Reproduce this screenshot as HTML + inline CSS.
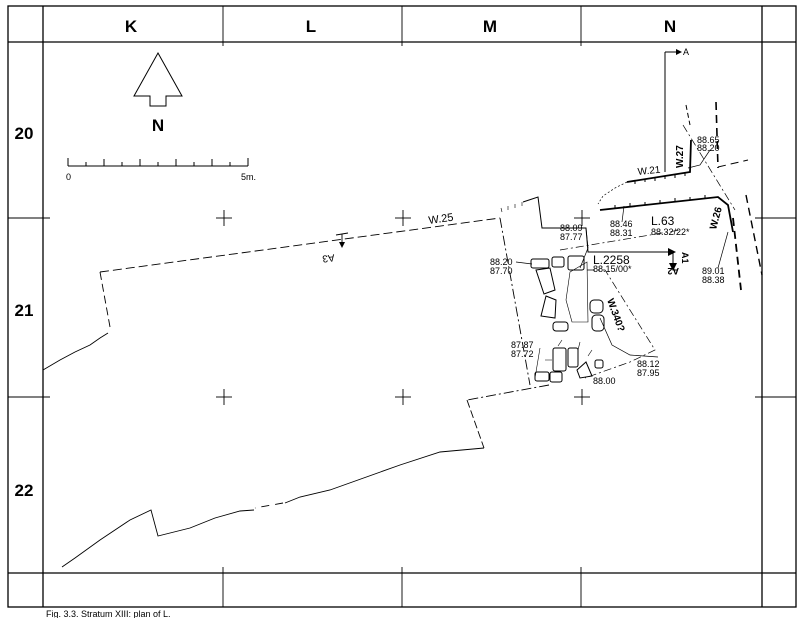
<!DOCTYPE html>
<html><head><meta charset="utf-8"><style>
html,body{margin:0;padding:0;background:#fff;}
svg{display:block;}
text{font-family:"Liberation Sans",Arial,sans-serif;fill:#000;}
.b{font-weight:bold;}
</style></head><body>
<svg width="805" height="618" viewBox="0 0 805 618" xmlns="http://www.w3.org/2000/svg">
<rect width="805" height="618" fill="#fff"/>
<g stroke="#000" fill="none" stroke-width="1.3">
<rect x="8" y="6" width="788" height="601"/>
<line x1="8" y1="42" x2="796" y2="42"/>
<line x1="8" y1="573" x2="796" y2="573"/>
<line x1="43" y1="6" x2="43" y2="607"/>
<line x1="762" y1="6" x2="762" y2="607"/>
</g>
<g stroke="#000" stroke-width="0.9">
<line x1="223" y1="6" x2="223" y2="46"/><line x1="402" y1="6" x2="402" y2="46"/><line x1="581" y1="6" x2="581" y2="46"/>
<line x1="223" y1="567" x2="223" y2="607"/><line x1="402" y1="567" x2="402" y2="607"/><line x1="581" y1="567" x2="581" y2="607"/>
<line x1="8" y1="218" x2="50" y2="218"/><line x1="8" y1="397" x2="50" y2="397"/>
<line x1="755" y1="218" x2="796" y2="218"/><line x1="755" y1="397" x2="796" y2="397"/>
<line x1="216" y1="218" x2="232" y2="218"/><line x1="224" y1="210" x2="224" y2="226"/>
<line x1="395" y1="218" x2="411" y2="218"/><line x1="403" y1="210" x2="403" y2="226"/>
<line x1="574" y1="218" x2="590" y2="218"/><line x1="582" y1="210" x2="582" y2="226"/>
<line x1="216" y1="397" x2="232" y2="397"/><line x1="224" y1="389" x2="224" y2="405"/>
<line x1="395" y1="397" x2="411" y2="397"/><line x1="403" y1="389" x2="403" y2="405"/>
<line x1="574" y1="397" x2="590" y2="397"/><line x1="582" y1="389" x2="582" y2="405"/>
</g>
<g class="b" font-size="17" text-anchor="middle">
<text x="131" y="32" class="b">K</text><text x="311" y="32" class="b">L</text>
<text x="490" y="32" class="b">M</text><text x="670" y="32" class="b">N</text>
<text x="24" y="139" class="b">20</text><text x="24" y="316" class="b">21</text><text x="24" y="496" class="b">22</text>
<text x="158" y="131" class="b">N</text>
</g>
<polygon points="158,53 182,96 166,96 166,106 150,106 150,96 134,96" fill="none" stroke="#000" stroke-width="1"/>
<g stroke="#000" stroke-width="1">
<line x1="68" y1="166" x2="248" y2="166"/>
<line x1="68" y1="158" x2="68" y2="166"/><line x1="86" y1="162" x2="86" y2="166"/><line x1="104" y1="159" x2="104" y2="166"/><line x1="122" y1="162" x2="122" y2="166"/><line x1="140" y1="159" x2="140" y2="166"/><line x1="158" y1="162" x2="158" y2="166"/><line x1="176" y1="159" x2="176" y2="166"/><line x1="194" y1="162" x2="194" y2="166"/><line x1="212" y1="159" x2="212" y2="166"/><line x1="230" y1="162" x2="230" y2="166"/><line x1="248" y1="158" x2="248" y2="166"/>
</g>
<text x="66" y="180" font-size="9">0</text><text x="241" y="180" font-size="9">5m.</text>
<g stroke="#000" stroke-width="0.9" fill="none">
<path d="M100,272 L500,218" stroke-dasharray="9,4"/>
<path d="M100,272 L110,327" stroke-dasharray="8,4"/>
<path d="M108,333 L100,338 L90,345 L75,352 L60,360 L43,370"/>
<path d="M500,218 L530,385" stroke-dasharray="10,3,2,3"/>
<path d="M549,385 L467,400" stroke-dasharray="10,3,2,3"/>
<path d="M467,400 L484,448" stroke-dasharray="8,3"/>
<path d="M484,448 L440,452 L400,465 L330,490 L300,497 L285,503"/>
<path d="M283,503 L255,508" stroke-dasharray="8,6"/>
<path d="M254,510 L240,511 L215,518 L190,528 L158,536 L151,510 L130,520 L100,540 L75,558 L62,567"/>
<path d="M336,235 L348,233 M342,234 L342,243" />
</g>
<path d="M339,242 L342,248 L345,242 Z" fill="#000"/>
<text x="429" y="224" font-size="11" transform="rotate(-8 429 224)">W.25</text>
<text x="352" y="253" font-size="10" transform="rotate(172 343 253)">A3</text>
<g stroke="#000" fill="none" stroke-width="1">
<line x1="665" y1="52" x2="665" y2="172"/>
<line x1="665" y1="52" x2="676" y2="52"/>
<path d="M627,182 L690,172 L691,140" stroke-width="1.8"/>
<path d="M627,182 L615,188 L603,196 L598,204" stroke-width="0.7" stroke-dasharray="2,2"/>
<path d="M600,210 L718,197 L728,205 L733,232" stroke-width="1.8"/>
<path d="M686,105 L690,125" stroke-dasharray="5,3"/>
<path d="M716,102 L718,168" stroke-dasharray="8,5" stroke-width="1.6"/>
<path d="M718,167 L748,160" stroke-dasharray="8,5"/>
<path d="M746,195 L762,275" stroke-dasharray="8,5" stroke-width="1.4"/>
<path d="M733,218 L741,290" stroke-dasharray="8,5" stroke-width="1.8"/>
<path d="M683,125 L735,210" stroke-dasharray="8,3,2,3" stroke-width="0.7"/>
<path d="M523,202 L538,197 L542,228 L586,228 L588,252 L668,252"/>
<path d="M560,250 L680,230" stroke-dasharray="8,3,2,3" stroke-width="0.7"/>
<path d="M587,270 L605,270 L655,350 L630,362 L585,378" stroke-dasharray="8,3,2,3" stroke-width="0.7"/>
<path d="M710,150 L700,165 L688,168" stroke-width="0.7"/>
<path d="M728,232 L718,268" stroke-width="0.7"/>
<path d="M624,206 L622,222" stroke-width="0.7"/>
<path d="M586,228 L588,248 L580,268" stroke-width="0.7"/>
<path d="M516,262 L532,264" stroke-width="0.7"/>
<path d="M600,318 L612,345 L630,355 L658,357" stroke-width="0.7"/>
<rect x="531" y="259" width="18" height="9" rx="2"/>
<rect x="552" y="257" width="12" height="10" rx="2"/>
<rect x="568" y="256" width="16" height="14" rx="2"/>
<path d="M536,270 L550,268 L555,290 L544,294 Z"/>
<path d="M546,296 L556,300 L555,318 L541,316 Z"/>
<rect x="553" y="322" width="15" height="9" rx="3"/>
<path d="M570,272 L587,262 L588,322 L572,322 L566,300 Z" stroke-width="0.6"/>
<rect x="590" y="300" width="13" height="13" rx="4"/>
<rect x="592" y="315" width="12" height="16" rx="4"/>
<rect x="553" y="348" width="13" height="23" rx="2"/>
<rect x="568" y="348" width="10" height="19" rx="2"/>
<rect x="535" y="372" width="14" height="9" rx="2"/>
<rect x="550" y="372" width="12" height="10" rx="2"/>
<path d="M577,370 L586,362 L592,376 L580,378 Z"/>
<rect x="595" y="360" width="8" height="8" rx="2"/>
<path d="M540,348 L535,378 M562,340 L558,346 M580,342 L578,350 M592,350 L588,356 M545,360 L552,360" stroke-width="0.6"/>
</g>
<g stroke="#000" stroke-width="1" fill="none">
<path d="M635,181 l0,3 M645,179 l0,3 M655,178 l0,3 M665,176 l0,3 M675,175 l0,3 M685,173 l0,3 M615,208 l0,-3 M630,206 l0,-3 M645,205 l0,-3 M660,203 l0,-3 M675,201 l0,-3 M690,200 l0,-3 M705,198 l0,-3"/>
<path d="M502,212 l-1,-4 M508,210 l0,-4 M515,208 l0,-4 M522,206 l0,-4" stroke-width="0.6"/>
</g>
<path d="M676,49 L682,52 L676,55 Z" fill="#000"/>
<path d="M668,248 L676,252 L668,256 Z" fill="#000"/>
<line x1="673" y1="252" x2="673" y2="265" stroke="#000"/>
<path d="M669,263 L673,271 L677,263 Z" fill="#000"/>
<g font-size="9">
<text x="683" y="55">A</text>
<text x="697" y="143">88.65</text><text x="697" y="151">88.20</text>
<text x="638" y="175" font-size="10" transform="rotate(-6 638 175)">W.21</text>
<text x="683" y="168" font-size="10" transform="rotate(-90 683 168)" class="b">W.27</text>
<text x="716" y="230" font-size="10" transform="rotate(-75 716 230)" class="b">W.26</text>
<text x="610" y="227">88.46</text><text x="610" y="236">88.31</text>
<text x="651" y="225" font-size="12">L.63</text>
<text x="651" y="235">88.32/22*</text>
<text x="560" y="231">88.09</text><text x="560" y="240">87.77</text>
<text x="593" y="264" font-size="12">L.2258</text>
<text x="593" y="272">88.15/00*</text>
<text x="682" y="252" transform="rotate(90 682 252)" class="b">A1</text>
<text x="679" y="268" transform="rotate(180 679 268)" class="b">A2</text>
<text x="702" y="274">89.01</text><text x="702" y="283">88.38</text>
<text x="490" y="265">88.20</text><text x="490" y="274">87.70</text>
<text x="607" y="300" font-size="10" transform="rotate(70 607 300)" class="b">W.340?</text>
<text x="511" y="348">87.87</text><text x="511" y="357">87.72</text>
<text x="637" y="367">88.12</text><text x="637" y="376">87.95</text>
<text x="593" y="384">88.00</text>
</g>
<text x="46" y="617" font-size="9">Fig. 3.3. Stratum XIII: plan of L.</text>
</svg>
</body></html>
